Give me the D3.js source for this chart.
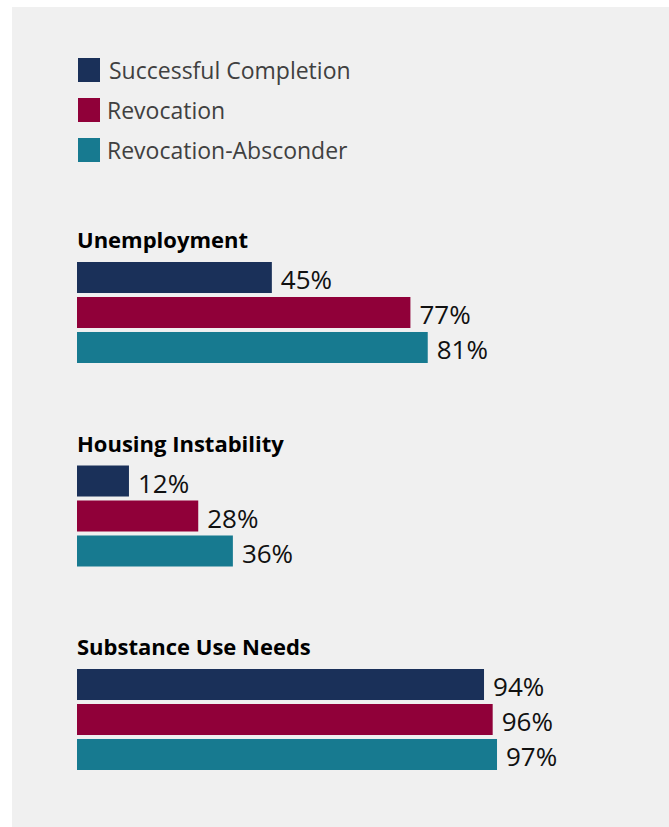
<!DOCTYPE html>
<html>
<head>
<meta charset="utf-8">
<script src="https://cdn.jsdelivr.net/npm/d3@7"></script>
<style>
  body { margin: 0; background: #fff; }
  svg { display: block; }
</style>
</head>
<body>
<svg id="chart"></svg>
<script>
// data
const categories = ["Unemployment", "Housing Instability", "Substance Use Needs"];
const series = ["Successful Completion", "Revocation", "Revocation-Absconder"];
const colors = ["#1a3059", "#900039", "#177a90"];
const successful = [45, 12, 94];
const revocation = [77, 28, 96];
const absconder = [81, 36, 97];

const width = 669, height = 827;
const values = [successful, revocation, absconder];
const font = "'Open Sans', sans-serif";

const svg = d3.select("#chart")
    .attr("width", width)
    .attr("height", height)
    .attr("viewBox", [0, 0, width, height]);

// grey panel
svg.append("rect")
    .attr("x", 12).attr("y", 7)
    .attr("width", width - 12).attr("height", height - 7)
    .attr("fill", "#f0f0f0");

const x = d3.scaleLinear([0, 100], [77, 510]);
const yGroup = d3.scaleBand(categories, [262, 262 + 3 * 203.5]);
const yBar = d3.scaleBand(series, [0, 101]).paddingInner(0.114);

// legend
const legend = svg.append("g")
  .selectAll("g")
  .data(series)
  .join("g")
    .attr("transform", (d, i) => `translate(78,${58 + i * 40})`);

legend.append("rect")
    .attr("width", 22).attr("height", 24)
    .attr("fill", (d, i) => colors[i]);

legend.append("text")
    .attr("x", (d, i) => i === 0 ? 31 : 29)
    .attr("y", 21)
    .attr("fill", "#404040")
    .style("font-family", font)
    .style("font-size", "23px")
    .text(d => d);

// groups
const group = svg.append("g")
  .selectAll("g")
  .data(categories)
  .join("g")
    .attr("transform", d => `translate(0,${yGroup(d)})`);

group.append("text")
    .attr("x", 77)
    .attr("y", -14)
    .attr("fill", "#000")
    .style("font-family", font)
    .style("font-weight", "bold")
    .style("font-size", "22px")
    .text(d => d);

const bars = group.selectAll("g.bar")
  .data((d, ci) => series.map((s, si) => ({ s, si, v: values[si][ci] })))
  .join("g")
    .attr("class", "bar");

bars.append("rect")
    .attr("x", x(0))
    .attr("y", d => yBar(d.s))
    .attr("width", d => x(d.v) - x(0))
    .attr("height", yBar.bandwidth())
    .attr("fill", d => colors[d.si]);

bars.append("text")
    .attr("x", d => x(d.v) + 9)
    .attr("y", d => yBar(d.s) + yBar.bandwidth() - 4)
    .attr("fill", "#111")
    .style("font-family", font)
    .style("font-size", "26px")
    .text(d => d.v + "%");
</script>
</body>
</html>
